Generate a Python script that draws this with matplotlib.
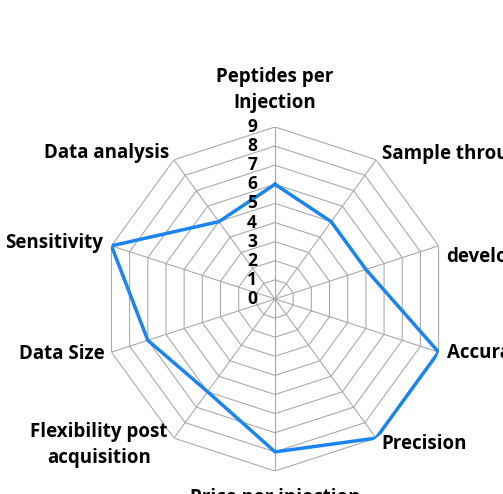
import numpy as np
import matplotlib.pyplot as plt

plt.rcParams['font.family'] = ['Open Sans', 'DejaVu Sans']

CATEGORIES = ['Peptides per\nInjection', 'Sample throughput', 'development',
              'Accuracy', 'Precision', 'Price per injection',
              'Flexibility post\nacquisition', 'Data Size', 'Sensitivity',
              'Data analysis']
SCORES = [6, 5, 5, 9, 9, 8, 6, 7, 9, 5]
RINGS = list(range(0, 10))

# label placement: (dx, dy) in pixels from outer vertex, ha, va
LABEL_POS = [(0, 14, 'center', 'bottom'), (6, 6, 'left', 'center'),
             (8, -11, 'left', 'center'), (8, -1, 'left', 'center'),
             (5, -6, 'left', 'center'), (0, -17, 'center', 'top'),
             (-6, -7, 'right', 'center'), (-7, -2, 'right', 'center'),
             (-8, 3, 'right', 'center'), (-5, 7, 'right', 'center')]

n = len(CATEGORIES)
theta = np.linspace(0, 2 * np.pi, n, endpoint=False)
theta_c = np.append(theta, theta[0])

fig = plt.figure(figsize=(5.03, 4.94), dpi=100)
ax = fig.add_axes([0.2048, 0.0466, 0.6839, 0.6964], projection='polar')
ax.set_theta_zero_location('N')
ax.set_theta_direction(-1)
ax.set_ylim(0, 9)
ax.grid(False)
ax.set_xticks([])
ax.set_yticks([])
ax.spines['polar'].set_visible(False)

grid_c = '#a6a6a6'
for r in RINGS[1:]:
    ax.plot(theta_c, [r] * (n + 1), color=grid_c, lw=0.75, zorder=1)
for t in theta:
    ax.plot([t, t], [0, 9], color=grid_c, lw=0.75, zorder=1)

vals = SCORES + SCORES[:1]
ax.plot(theta_c, vals, color='#1A84F0', lw=2.5, zorder=3,
        solid_joinstyle='miter')

for r in RINGS:
    ax.annotate(str(r), xy=(0, r), xytext=(-18, 0), textcoords='offset pixels',
                ha='right', va='center', fontsize=12.5, fontweight='bold',
                annotation_clip=False)

for t, lab, (dx, dy, ha, va) in zip(theta, CATEGORIES, LABEL_POS):
    ax.annotate(lab, xy=(t, 9), xytext=(dx, dy), textcoords='offset pixels',
                ha=ha, va=va, multialignment='center', fontsize=13.5,
                fontweight='bold', annotation_clip=False, linespacing=1.38)

fig.savefig('out.png', dpi=100)
